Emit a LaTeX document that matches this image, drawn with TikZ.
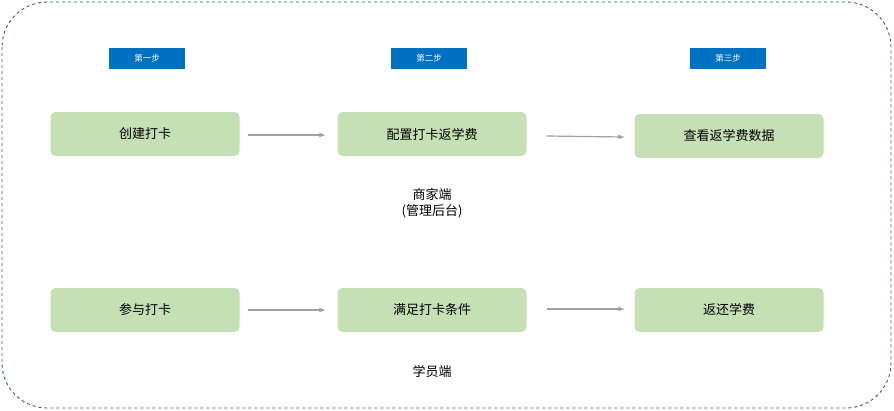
\documentclass[tikz,border=0pt]{standalone}
\usepackage{fontspec}
\setmainfont{Noto Sans CJK SC}
\begin{document}
\begin{tikzpicture}[x=1pt,y=-1pt,
  greenbox/.style={fill={rgb,255:red,197;green,224;blue,180},rounded corners=5pt,minimum width=189pt,minimum height=44pt,font=\fontsize{13}{15}\selectfont,inner sep=0pt},
  steplabel/.style={fill={rgb,255:red,0;green,112;blue,192},text=white,minimum width=76pt,minimum height=21pt,font=\fontsize{8.5}{10}\selectfont,inner sep=0pt},
  arr/.style={draw={rgb,255:red,160;green,160;blue,160},line width=1.2pt,-latex},
  note/.style={font=\fontsize{13}{16}\selectfont,align=center}]
\useasboundingbox (0,0) rectangle (894,410);
\draw[dashed,draw={rgb,255:red,47;green,84;blue,150},line width=0.9pt,rounded corners=45pt] (2,2) rectangle (891,408);
\node[steplabel] (s1) at (147,58) {第一步};
\node[steplabel] (s2) at (429,58) {第二步};
\node[steplabel] (s3) at (728,58) {第三步};
\node[greenbox] (a1) at (145,134) {创建打卡};
\node[greenbox] (a2) at (432,134) {配置打卡返学费};
\node[greenbox] (a3) at (729,136) {查看返学费数据};
\node[greenbox] (b1) at (145,310) {参与打卡};
\node[greenbox] (b2) at (432,310) {满足打卡条件};
\node[greenbox] (b3) at (729,310) {返还学费};
\draw[arr] (a1.east)++(8,1) coordinate (p1) -- ++(78,0) coordinate (q1);
\draw[arr] (a2.east)++(20,2) coordinate (p2) -- ++(78,1) coordinate (q2);
\draw[arr] (b1.east)++(8,0) coordinate (p3) -- ++(78,0) coordinate (q3);
\draw[arr] (b2.east)++(20,-1) coordinate (p4) -- ++(78,0) coordinate (q4);
\node[note] (m) at (432,203) {商家端\\(管理后台)};
\node[note] (u) at (432,372) {学员端};
\end{tikzpicture}
\end{document}
